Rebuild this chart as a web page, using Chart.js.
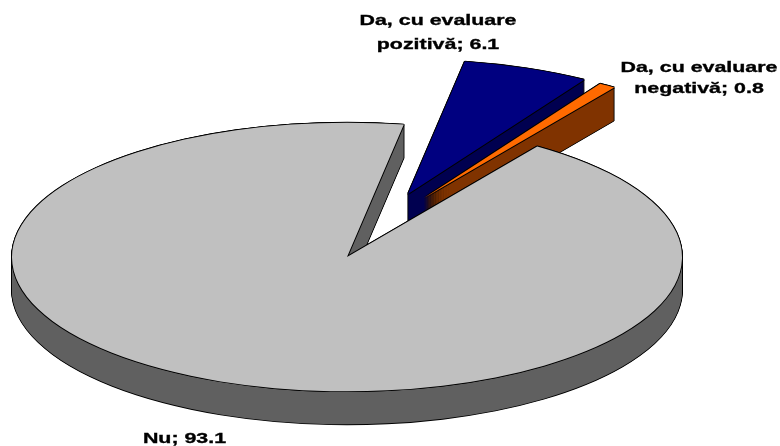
<!DOCTYPE html>
<html>
<head>
<meta charset="utf-8">
<title>Evaluare</title>
<script src="https://cdn.jsdelivr.net/npm/chart.js@4/dist/chart.umd.min.js"></script>
<style>
    html, body { margin: 0; padding: 0; background: #ffffff; }
    #wrap { width: 780px; height: 446px; overflow: hidden; }
</style>
</head>
<body>
<div id="wrap"><canvas id="pie" width="780" height="446"></canvas></div>
<script>
// Chart data
const categoryLines = [['Nu'], ['Da, cu evaluare', 'pozitivă'], ['Da, cu evaluare', 'negativă']];
const values = [93.1, 6.1, 0.8];

// Look of the tilted pie
const topColors = ['#c0c0c0', '#000080', '#ff6a00'];
const wallColors = ['#606060', '#000050', '#803300'];
const sliceShift = [[0, 0], [61, -63], [77, -59]];
const drawOrder = [1, 2, 0];
const labelAnchors = [[184.5, 442.5], [438, 25], [699, 71.5]];
const lineGaps = [0, 23.5, 21.5];
const squash = 0.401;
const depth = 33;
const edge = 0.9;
const textStretch = 1.38;

// Stamps the arc at every offset on a scratch canvas, then floods it with one
// colour so the many antialiased layers do not drift into visible streaks.
function stampArc(ctx, arc, color, offsets) {
    const scratch = document.createElement('canvas');
    scratch.width = ctx.canvas.width;
    scratch.height = ctx.canvas.height;
    const sctx = scratch.getContext('2d');
    offsets.forEach(([dx, dy]) => {
        sctx.save();
        sctx.translate(arc.x + dx, arc.y + dy);
        sctx.scale(1, squash);
        sctx.translate(-arc.x, -arc.y);
        arc.draw(sctx);
        sctx.restore();
    });
    sctx.globalCompositeOperation = 'source-in';
    sctx.fillStyle = color;
    sctx.fillRect(0, 0, scratch.width, scratch.height);
    ctx.drawImage(scratch, 0, 0);
}

function paintSlice(ctx, arc, index) {
    const [sx, sy] = sliceShift[index];

    // black silhouette of the whole extruded slice, slightly larger
    const outline = [[sx, sy - edge], [sx, sy + depth + edge]];
    const wall = [];
    for (let d = 0; d <= depth; d++) {
        outline.push([sx - edge, sy + d], [sx + edge, sy + d]);
        wall.push([sx, sy + depth - d]);
    }
    stampArc(ctx, arc, '#000000', outline);

    // side wall
    stampArc(ctx, arc, wallColors[index], wall);

    // outline of the top face, then the face itself
    const ring = [[-1, -1], [1, -1], [-1, 1], [1, 1]].map(([ox, oy]) => [sx + ox * edge * 0.8, sy + oy * edge * 0.8]);
    stampArc(ctx, arc, '#000000', ring);
    stampArc(ctx, arc, topColors[index], [[sx, sy]]);
}

const tiltedPie = {
    id: 'tiltedPie',
    beforeDatasetsDraw(chart) {
        const meta = chart.getDatasetMeta(0);
        drawOrder.forEach(index => paintSlice(chart.ctx, meta.data[index], index));
        return false;
    }
};

const sliceLabels = {
    id: 'sliceLabels',
    afterDraw(chart) {
        const ctx = chart.ctx;
        ctx.save();
        ctx.fillStyle = '#000000';
        ctx.strokeStyle = '#000000';
        ctx.lineWidth = 0.35;
        ctx.font = 'bold 15.5px "Liberation Sans", Arial, sans-serif';
        ctx.textAlign = 'center';
        ctx.textBaseline = 'alphabetic';
        categoryLines.forEach((lines, i) => {
            const [x, y] = labelAnchors[i];
            const texts = [...lines];
            texts[texts.length - 1] += '; ' + values[i];
            texts.forEach((text, row) => {
                ctx.save();
                ctx.translate(x, y + row * lineGaps[i]);
                ctx.scale(textStretch, 1);
                ctx.fillText(text, 0, 0);
                ctx.strokeText(text, 0, 0);
                ctx.restore();
            });
        });
        ctx.restore();
    }
};

new Chart(document.getElementById('pie'), {
    type: 'pie',
    data: {
        labels: categoryLines.map(lines => lines.join(' ')),
        datasets: [{
            data: values,
            backgroundColor: topColors,
            borderWidth: 0
        }]
    },
    options: {
        responsive: false,
        animation: false,
        radius: 335,
        rotation: 34.6,
        layout: { padding: { top: 68, right: 86 } },
        plugins: {
            legend: { display: false },
            tooltip: { enabled: false }
        }
    },
    plugins: [tiltedPie, sliceLabels]
});
</script>
</body>
</html>
